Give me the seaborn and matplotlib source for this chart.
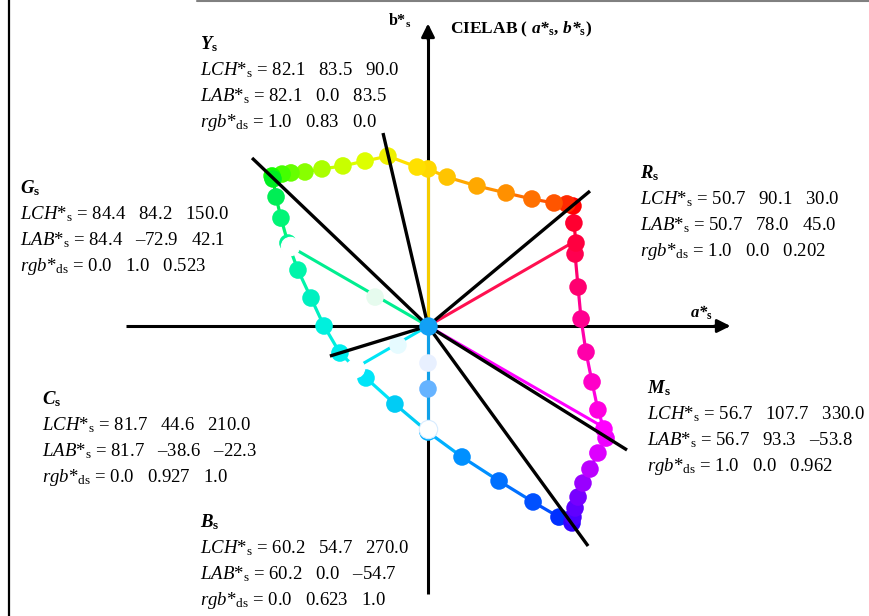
import numpy as np
import matplotlib
matplotlib.use("Agg")
import matplotlib.pyplot as plt
from matplotlib.collections import LineCollection
from matplotlib.lines import Line2D
import pandas as pd
import seaborn as sns

# hue path in the (a*, b*) plane
path_a = [76.7, 73.5, 66.7, 55.0, 41.3, 25.9, 10.1, 0.0, -5.8, -21.2, -33.3, -45.0, -56.1,
          -65.1, -72.5, -77.2, -82.5, -82.0, -80.4, -77.8, -74.1, -68.8, -61.9, -55.0, -46.6,
          -32.8, -17.5, 0.0, 18.0, 37.6, 55.6, 69.3, 76.2, 76.7, 77.8, 79.4, 82.0, 85.7, 89.9,
          94.2, 93.1, 89.9, 86.8, 83.6, 81.0, 79.4, 77.8, 78.3, 77.2]
path_b = [63.5, 64.6, 65.1, 67.2, 70.4, 74.1, 78.8, 83.1, 84.1, 89.9, 87.3, 84.7, 83.1,
          81.5, 81.0, 80.4, 79.4, 77.8, 68.3, 57.1, 43.9, 29.6, 14.8, 0.0, -14.3,
          -27.5, -41.3, -56.1, -69.3, -82.0, -93.1, -101.1, -104.2, -101.1, -96.3, -90.5, -83.1, -75.7, -67.2,
          -59.3, -54.5, -44.4, -29.6, -13.8, 3.7, 20.6, 38.1, 43.9, 54.5]
path_colors = ['#ff0000', '#ff2a00', '#ff5500', '#ff7000', '#ff9000', '#ffa800', '#ffc400', '#ffd800',
               '#ffe000', '#eef000', '#ddff00', '#c8ff00', '#aaff00', '#88ff00', '#66ff00', '#44ff00',
               '#11ff00', '#00ee22', '#00ee55', '#00f577', '#00f595', '#00f5aa', '#00f0c0', '#00f0dd',
               '#00eeee', '#00e5f8', '#00ccf5', '#00b0ff', '#0090ff', '#0070ff', '#0050ff', '#0030ff',
               '#3300ff', '#4a00ff', '#6000ff', '#7700ff', '#9900ff', '#bb00ff', '#dd00ff', '#ee00ff',
               '#ff00ff', '#ff00e0', '#ff00c8', '#ff00aa', '#ff0090', '#ff0070', '#ff0050', '#ff0040',
               '#ff0030']

# the six elementary colours
names = ['Y', 'G', 'R', 'C', 'M', 'B']
lch = [(82.1, 83.5, 90.0), (84.4, 84.2, 150.0), (50.7, 90.1, 30.0),
       (81.7, 44.6, 210.0), (56.7, 107.7, 330.0), (60.2, 54.7, 270.0)]
lab = [(82.1, 0.0, 83.5), (84.4, -72.9, 42.1), (50.7, 78.0, 45.0),
       (81.7, -38.6, -22.3), (56.7, 93.3, -53.8), (60.2, 0.0, -54.7)]
rgb = ['1.0   0.83   0.0', '0.0   1.0   0.523', '1.0   0.0   0.202',
       '0.0   0.927   1.0', '1.0   0.0   0.962', '0.0   0.623   1.0']
line_colors = ['#f5cc00', '#00ee90', '#ff1050', '#00e5f5', '#ff00ff', '#10a0e8']
hollow = ['G', 'C', 'B']

# small dots on the grey axis lines
mid_a = [0.0, 0.0, -28.0, -15.9]
mid_b = [-19.6, -33.3, 15.3, -10.1]
mid_colors = ['#e8f0ff', '#66b3ff', '#e6fbee', '#e6fbff']

# black hue boundary lines (end points)
edge_a = [-93.1, -23.8, 85.7, -51.9, 105.3, 84.7]
edge_b = [88.9, 102.1, 71.4, -15.9, -65.6, -116.4]

W, H = 869, 616
SC = 1.89       # pixels per CIELAB unit
CX, CY = 428, 326
BLACK = '#000000'

sns.set_theme(style="white")
plt.rcParams['font.family'] = ['Liberation Serif', 'DejaVu Serif']
plt.rcParams['text.color'] = BLACK
plt.rcParams['mathtext.fontset'] = 'custom'
plt.rcParams['mathtext.rm'] = 'Liberation Serif'
plt.rcParams['mathtext.it'] = 'Liberation Serif:italic'
plt.rcParams['mathtext.bf'] = 'Liberation Serif:bold'
plt.rcParams['mathtext.bfit'] = 'Liberation Serif:italic:bold'

fig = plt.figure(figsize=(W / 100, H / 100), dpi=100)
ax = fig.add_axes([0, 0, 1, 1])
ax.set_xlim(-CX / SC, (W - CX) / SC)
ax.set_ylim(-(H - CY) / SC, CY / SC)
ax.axis('off')

# axes with arrows
ax.plot([-160, 158], [0, 0], color=BLACK, lw=2.2, zorder=1, solid_capstyle='butt')
ax.plot([0, 0], [-142, 158], color=BLACK, lw=2.2, zorder=1, solid_capstyle='butt')
ax.annotate('', xy=(161.5, 0), xytext=(150, 0),
            arrowprops=dict(arrowstyle='-|>', color=BLACK, lw=2, mutation_scale=20), zorder=1)
ax.annotate('', xy=(0, 161.5), xytext=(0, 150),
            arrowprops=dict(arrowstyle='-|>', color=BLACK, lw=2, mutation_scale=20), zorder=1)

# coloured lines from the centre to each elementary colour
for (l, a, b), c in zip(lab, line_colors):
    ax.plot([0, a], [0, b], color=c, lw=2.2, zorder=3, solid_capstyle='butt')

# hue path
pts = np.column_stack([path_a, path_b])
segs = [[pts[i], pts[(i + 1) % len(pts)]] for i in range(len(pts))]
ax.add_collection(LineCollection(segs, colors=path_colors, linewidths=2.3, zorder=2))

df = pd.DataFrame({'a': path_a, 'b': path_b, 'k': range(len(path_a))})
sns.scatterplot(data=df, x='a', y='b', hue='k', palette=path_colors, s=160,
                linewidth=0, legend=False, ax=ax, zorder=4)

dm = pd.DataFrame({'a': mid_a, 'b': mid_b, 'k': range(len(mid_a))})
sns.scatterplot(data=dm, x='a', y='b', hue='k', palette=mid_colors, s=160,
                linewidth=0, legend=False, ax=ax, zorder=4)

# black boundary lines
for a, b in zip(edge_a, edge_b):
    ax.plot([0, a], [0, b], color=BLACK, lw=2.4, zorder=5, solid_capstyle='butt')

# hollow markers for G, C, B
for n, (l, a, b) in zip(names, lab):
    if n in hollow:
        ec = '#d8ecff' if n == 'B' else 'white'
        ax.scatter([a], [b], s=175, color='white', edgecolor=ec, linewidth=0.8, zorder=6)

# centre dot
ax.scatter([0], [0], s=175, color='#12a0f5', linewidth=0, zorder=7)


def px(x, y):
    return x / W, 1 - y / H


def fmt(v):
    return f'{v:.1f}'.replace('-', '\u2013')


blocks = {'Y': (200, 49), 'G': (20, 193), 'R': (640, 178),
          'C': (42, 404), 'M': (647, 393), 'B': (200, 527)}
fs = 13.5
for n, L, A, r in zip(names, lch, lab, rgb):
    x, y = blocks[n]
    fig.text(*px(x, y), r'$\mathbfit{%s}_{\mathbf{s}}$' % n, fontsize=fs, va='baseline')
    fig.text(*px(x, y + 26), r'$\mathit{LCH}{*}_{\mathrm{s}}$ = ' + '   '.join(fmt(v) for v in L),
             fontsize=fs, va='baseline')
    fig.text(*px(x, y + 52), r'$\mathit{LAB}{*}_{\mathrm{s}}$ = ' + '   '.join(fmt(v) for v in A),
             fontsize=fs, va='baseline')
    fig.text(*px(x, y + 78), r'$\mathit{rgb}{*}_{\mathrm{ds}}$ = ' + r,
             fontsize=fs, va='baseline')

fig.text(*px(450, 33), r'CIELAB ( $\mathbfit{a{*}}_{\mathbf{s}}$, $\mathbfit{b{*}}_{\mathbf{s}}$)',
         fontsize=12.5, fontweight='bold', va='baseline')
fig.text(*px(388, 26), r'$\mathbf{b{*}}_{\mathbf{s}}$', fontsize=11.5, va='baseline')
fig.text(*px(690, 318), r'$\mathbfit{a{*}}_{\mathbf{s}}$', fontsize=12, va='baseline')

# page frame
fig.add_artist(Line2D([8.5 / W, 8.5 / W], [0, 1], color=BLACK, lw=1.6, transform=fig.transFigure))
fig.add_artist(Line2D([197 / W, 1], [1 - 1 / H, 1 - 1 / H], color='#808080', lw=1.5,
                      transform=fig.transFigure))

fig.savefig('out.png', dpi=100)
